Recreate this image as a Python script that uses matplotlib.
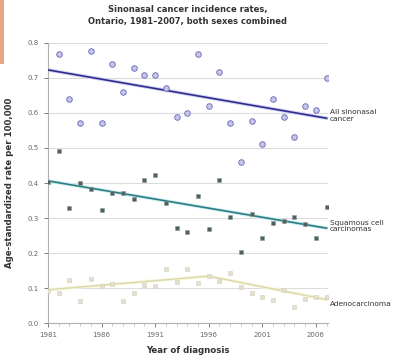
import numpy as np
import matplotlib.pyplot as plt
from matplotlib.patches import Rectangle

# years of diagnosis
years = np.arange(1981, 2008)

# age-standardized rates per 100,000
all_sinonasal = [np.nan, 0.769, 0.640, 0.571, 0.778, 0.571, 0.739, 0.659, 0.728,
                 0.709, 0.709, 0.671, 0.589, 0.601, 0.769, 0.620, 0.718, 0.571,
                 0.461, 0.578, 0.511, 0.640, 0.589, 0.531, 0.620, 0.609, 0.699]
squamous = [0.404, 0.491, 0.330, 0.401, 0.382, 0.323, 0.371, 0.371, 0.353,
            0.410, 0.423, 0.342, 0.272, 0.261, 0.363, 0.270, 0.410, 0.302,
            0.202, 0.311, 0.242, 0.285, 0.292, 0.302, 0.283, 0.242, 0.331]
adeno = [0.092, 0.085, 0.123, 0.064, 0.125, 0.105, 0.111, 0.064, 0.085,
         0.108, 0.105, 0.153, 0.118, 0.153, 0.113, 0.134, 0.120, 0.144,
         0.104, 0.085, 0.075, 0.066, 0.094, 0.047, 0.068, 0.075, 0.075]

# fitted trends (joinpoints)
all_trend_years = [1981, 2007]
all_trend = [0.723, 0.585]
sq_trend_years = [1981, 2007]
sq_trend = [0.406, 0.271]
ad_trend_years = [1981, 1996, 2007]
ad_trend = [0.095, 0.134, 0.067]

fig = plt.figure(figsize=(3.95, 3.55), dpi=100)
fig.add_artist(Rectangle((0, 0.82), 0.01, 0.18, transform=fig.transFigure,
                         color="#e9a486", lw=0))
ax = fig.add_axes([0.1215, 0.090, 0.708, 0.789])

ax.set_xlim(1981, 2007.1)
ax.set_ylim(0.0, 0.8)
ax.set_yticks(np.arange(0, 0.81, 0.1))
ax.set_yticklabels([f"{v:.1f}" for v in np.arange(0, 0.81, 0.1)])
ax.set_xticks([1981, 1986, 1991, 1996, 2001, 2006])
ax.set_xticks(years, minor=True)
ax.grid(axis="y", color="#dcdcdc", lw=0.8)
ax.set_axisbelow(True)
for s in ["top", "right"]:
    ax.spines[s].set_visible(False)
ax.spines["left"].set_color("#b0b0b0")
ax.spines["bottom"].set_color("#b0b0b0")
ax.tick_params(labelsize=5, colors="#666666", length=3, width=0.6)
ax.tick_params(which="minor", length=2.5, width=0.5, colors="#b0b0b0")

# trend lines
ax.plot(all_trend_years, all_trend, color="#d2d2f2", lw=2.6, zorder=2)
ax.plot(all_trend_years, all_trend, color="#2e2e90", lw=1.2, zorder=3)
ax.plot(sq_trend_years, sq_trend, color="#cdeff2", lw=2.6, zorder=2)
ax.plot(sq_trend_years, sq_trend, color="#2c7d83", lw=1.2, zorder=3)
ax.plot(ad_trend_years, ad_trend, color="#f6f4d8", lw=2.2, zorder=2)
ax.plot(ad_trend_years, ad_trend, color="#d9d7aa", lw=0.9, zorder=3)

# observed rates
ax.plot(years, all_sinonasal, "o", ms=4.0, mfc="#c6c6ec", mec="#7676bc",
        mew=0.7, zorder=4)
ax.plot(years, squamous, "s", ms=2.5, mfc="#506060", mec="#8a9a9a",
        mew=0.4, zorder=4)
ax.plot(years, adeno, "s", ms=2.4, mfc="#e4dfcf", mec="#d3cdb8",
        mew=0.4, zorder=4)

# series labels
ax.text(2007.3, 0.592, "All sinonasal\ncancer", fontsize=5.3, color="#333333",
        va="center", ha="left", linespacing=1.15, clip_on=False)
ax.text(2007.3, 0.277, "Squamous cell\ncarcinomas", fontsize=5.3, color="#333333",
        va="center", ha="left", linespacing=1.15, clip_on=False)
ax.text(2007.3, 0.054, "Adenocarcinoma", fontsize=5.3, color="#333333",
        va="center", ha="left", clip_on=False)

ax.set_title("Sinonasal cancer incidence rates,\nOntario, 1981\u20132007, both sexes combined",
             fontsize=6, fontweight="bold", color="#333333", pad=14, linespacing=1.3)
ax.set_xlabel("Year of diagnosis", fontsize=6.2, fontweight="bold", color="#333333",
              labelpad=6)
ax.set_ylabel("Age-standardized rate per 100,000", fontsize=6.2, fontweight="bold",
              color="#333333", labelpad=10)

fig.savefig("out.png", dpi=100)
